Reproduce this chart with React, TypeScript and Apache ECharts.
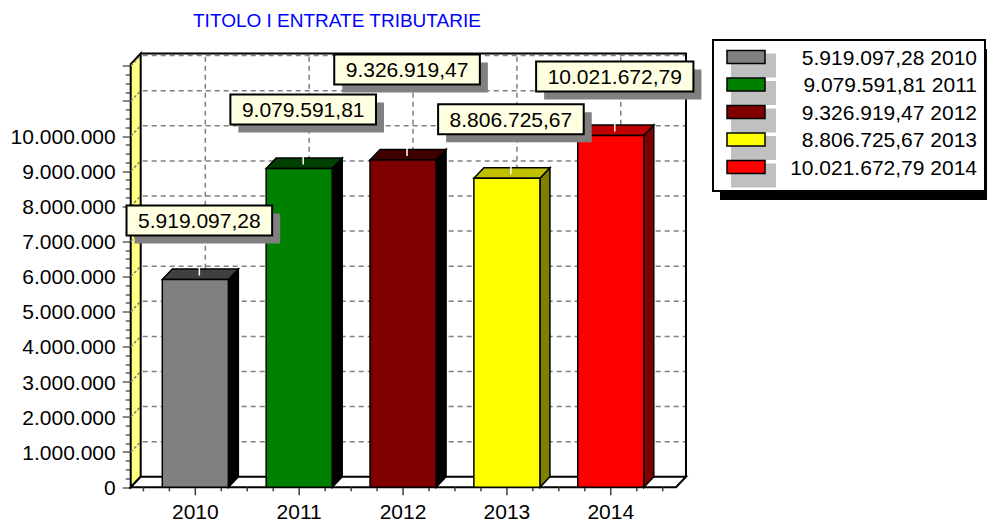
import React, { useEffect, useRef } from "react";
import * as echarts from "echarts";

const categories = ["2010", "2011", "2012", "2013", "2014"];
const values = [5919097.28, 9079591.81, 9326919.47, 8806725.67, 10021672.79];
const frontColors = ["#808080", "#008000", "#800000", "#ffff00", "#ff0000"];
const topColors = ["#404040", "#004000", "#400000", "#c0c000", "#c00000"];
const sideColors = ["#000000", "#000000", "#000000", "#808000", "#800000"];
const yMax = 12000000;
const yInterval = 1000000;
const yLabelMax = 10000000;
const titleText = "TITOLO I ENTRATE TRIBUTARIE";

const FONT = "'Liberation Sans', Arial, Helvetica, sans-serif";
const DX = 10;
const DY = -10.5;
const PAD_L = 12.7;
const PAD_R = 13.3;
const BAR_RATIO = 0.636;

function fmtInt(n: number): string {
  return String(Math.round(n)).replace(/\B(?=(\d{3})+(?!\d))/g, ".");
}
function fmtVal(v: number): string {
  const [i, d] = v.toFixed(2).split(".");
  return fmtInt(Number(i)) + "," + d;
}

const frameRender = (params: any, api: any) => {
  const p0 = api.coord([0, 0]);
  const band = api.size([1, 0])[0];
  const n = categories.length;
  const xl = p0[0] - band / 2 - PAD_L;
  const xr = p0[0] - band / 2 + n * band + PAD_R;
  const y0 = p0[1];
  const yt = api.coord([0, yMax])[1] - 2;
  const children: any[] = [];
  // left wall
  children.push({
    type: "polygon",
    shape: { points: [[xl, y0], [xl, yt], [xl + DX, yt + DY], [xl + DX, y0 + DY]] },
    style: { fill: "#ffff80", stroke: "#000", lineWidth: 2 },
  });
  // floor
  children.push({
    type: "polygon",
    shape: { points: [[xl, y0], [xr, y0], [xr + DX, y0 + DY], [xl + DX, y0 + DY]] },
    style: { fill: "#fff", stroke: "#000", lineWidth: 2 },
  });
  // horizontal gridlines on back wall and diagonals on left wall
  for (let v = yInterval; v <= yMax; v += yInterval) {
    const y = api.coord([0, v])[1];
    children.push({
      type: "line",
      shape: { x1: xl + DX + 2, y1: y + DY, x2: xr + DX, y2: y + DY },
      style: { stroke: "#808080", lineWidth: 1.5, lineDash: [5, 4] },
    });
    children.push({
      type: "line",
      shape: { x1: xl, y1: y, x2: xl + DX, y2: y + DY },
      style: { stroke: "#808080", lineWidth: 1.5, lineDash: [3, 2] },
    });
  }
  // vertical gridlines and x ticks
  for (let i = 0; i < n; i++) {
    const cx = api.coord([i, 0])[0];
    children.push({
      type: "line",
      shape: { x1: cx + DX, y1: y0 + DY - 1, x2: cx + DX, y2: yt + DY + 2 },
      style: { stroke: "#808080", lineWidth: 1.5, lineDash: [5, 4] },
    });
    const minors = [cx - band / 2, cx - band / 4, cx + band / 4];
    if (i === n - 1) minors.push(cx + band / 2);
    minors.forEach((mx) =>
      children.push({
        type: "line",
        shape: { x1: mx, y1: y0, x2: mx, y2: y0 + 4 },
        style: { stroke: "#404040", lineWidth: 1.5 },
      })
    );
    children.push({
      type: "line",
      shape: { x1: cx, y1: y0, x2: cx, y2: y0 + 8 },
      style: { stroke: "#404040", lineWidth: 1.5 },
    });
  }
  // back wall borders
  children.push({
    type: "polyline",
    shape: { points: [[xl + DX, yt + DY], [xr + DX, yt + DY], [xr + DX, y0 + DY]] },
    style: { stroke: "#000", lineWidth: 2, fill: "none" },
  });
  return { type: "group", children };
};

const barRender = (params: any, api: any) => {
  const i = params.dataIndex;
  const v = api.value(1);
  const p = api.coord([api.value(0), v]);
  const cx = p[0];
  const yv = p[1];
  const y0 = api.coord([api.value(0), 0])[1];
  const w = api.size([1, 0])[0] * BAR_RATIO;
  const x1 = cx - w / 2;
  const x2 = cx + w / 2;
  return {
    type: "group",
    children: [
      {
        type: "polygon",
        shape: { points: [[x2, yv], [x2 + DX, yv + DY], [x2 + DX, y0 + DY], [x2, y0]] },
        style: { fill: sideColors[i], stroke: "#000", lineWidth: 1.5 },
      },
      {
        type: "polygon",
        shape: { points: [[x1, yv], [x1 + DX, yv + DY], [x2 + DX, yv + DY], [x2, yv]] },
        style: { fill: topColors[i], stroke: "#000", lineWidth: 1.5 },
      },
      {
        type: "rect",
        shape: { x: x1, y: yv, width: w, height: y0 - yv },
        style: { fill: frontColors[i], stroke: "#000", lineWidth: 1.5 },
      },
      {
        type: "line",
        shape: { x1: cx + DX / 2 - 1, y1: yv + DY - 2, x2: cx + DX / 2 - 1, y2: yv - 4 },
        style: { stroke: "#fff", lineWidth: 1.5 },
      },
    ],
  };
};

export default function App() {
  const ref = useRef<HTMLDivElement>(null);
  useEffect(() => {
    if (!ref.current) return;
    const chart = echarts.init(ref.current, undefined, { renderer: "svg" });
    chart.setOption({
      animation: false,
      backgroundColor: "#ffffff",
      grid: { left: 143.4, top: 66.1, width: 519.3, height: 421.2 },
      xAxis: {
        type: "category",
        data: categories,
        axisLine: { show: false },
        axisTick: { show: false },
        splitLine: { show: false },
        axisLabel: { fontSize: 21, color: "#000", fontFamily: FONT, margin: 14 },
      },
      yAxis: {
        type: "value",
        min: 0,
        max: yMax,
        interval: yInterval,
        offset: 12.7,
        axisLine: { show: true, lineStyle: { color: "#000", width: 2 } },
        axisTick: { show: true, length: 8, lineStyle: { color: "#606060", width: 1.5 } },
        minorTick: { show: true, splitNumber: 4, length: 5, lineStyle: { color: "#606060", width: 1.5 } },
        splitLine: { show: false },
        axisLabel: {
          fontSize: 21,
          color: "#000",
          fontFamily: FONT,
          margin: 15,
          formatter: (v: number) => (v > yLabelMax ? "" : fmtInt(v)),
        },
      },
      series: [
        {
          type: "custom",
          z: 1,
          clip: false,
          silent: true,
          renderItem: frameRender,
          encode: { x: 0, y: 1 },
          data: [[0, 0]],
        },
        {
          type: "custom",
          z: 2,
          clip: false,
          renderItem: barRender,
          encode: { x: 0, y: 1 },
          data: values.map((v, i) => [i, v]),
        },
      ],
    });

    // labels with simple overlap avoidance
    const canvas = document.createElement("canvas");
    const ctx = canvas.getContext("2d")!;
    ctx.font = `21px ${FONT}`;
    const boxes: any[] = [];
    values.forEach((v, i) => {
      const p = chart.convertToPixel({ seriesIndex: 1 }, [i, v]) as number[];
      const text = fmtVal(v);
      const w = ctx.measureText(text).width + 23;
      const h = 30;
      const x = p[0] + 4 - w / 2;
      let y = p[1] - 44 - h;
      for (let k = 0; k < 3; k++) {
        for (const b of boxes) {
          if (x < b.x + b.w && x + w > b.x && y < b.y + b.h && y + h > b.y) {
            y = b.y - 10 - h;
          }
        }
      }
      boxes.push({ x, y, w, h, text });
    });

    const graphics: any[] = [];
    graphics.push({
      type: "text",
      x: 193,
      y: 20.5,
      style: {
        text: titleText,
        font: `19px ${FONT}`,
        fill: "#0000ff",
        align: "left",
        verticalAlign: "middle",
        textAlign: "left",
        textVerticalAlign: "middle",
      },
      z: 100,
    });
    boxes.forEach((b) => {
      graphics.push({
        type: "rect",
        shape: { x: b.x + 8, y: b.y + 8, width: b.w, height: b.h },
        style: { fill: "#808080" },
        z: 100,
      });
      graphics.push({
        type: "rect",
        shape: { x: b.x, y: b.y, width: b.w, height: b.h },
        style: { fill: "#ffffe1", stroke: "#000", lineWidth: 2 },
        z: 101,
      });
      graphics.push({
        type: "text",
        x: b.x + b.w / 2,
        y: b.y + b.h / 2,
        style: {
          text: b.text,
          font: `21px ${FONT}`,
          fill: "#000",
          align: "center",
          verticalAlign: "middle",
          textAlign: "center",
          textVerticalAlign: "middle",
        },
        z: 102,
      });
    });

    // legend
    const LX = 713, LY = 40, LW = 272, LH = 151;
    graphics.push({
      type: "rect",
      shape: { x: LX + 7, y: LY + 9, width: LW, height: LH },
      style: { fill: "#000" },
      z: 100,
    });
    graphics.push({
      type: "rect",
      shape: { x: LX, y: LY, width: LW, height: LH },
      style: { fill: "#fff", stroke: "#000", lineWidth: 2 },
      z: 101,
    });
    values.forEach((v, i) => {
      const cy = 57 + i * 27.5;
      graphics.push({
        type: "rect",
        shape: { x: 731, y: cy - 3.5, width: 45, height: 24 },
        style: { fill: "#c0c0c0" },
        z: 102,
      });
    });
    values.forEach((v, i) => {
      const cy = 57 + i * 27.5;
      graphics.push({
        type: "rect",
        shape: { x: 727, y: cy - 6.5, width: 38, height: 13 },
        style: { fill: frontColors[i], stroke: "#000", lineWidth: 1.5 },
        z: 103,
      });
      graphics.push({
        type: "text",
        x: 977,
        y: cy,
        style: {
          text: `${fmtVal(v)} ${categories[i]}`,
          font: `21px ${FONT}`,
          fill: "#000",
          align: "right",
          verticalAlign: "middle",
          textAlign: "right",
          textVerticalAlign: "middle",
        },
        z: 103,
      });
    });

    chart.setOption({ graphic: graphics });
    return () => chart.dispose();
  }, []);
  return (
    <div
      ref={ref}
      style={{ position: "fixed", left: 0, top: 0, width: 987, height: 525, background: "#fff" }}
    />
  );
}
